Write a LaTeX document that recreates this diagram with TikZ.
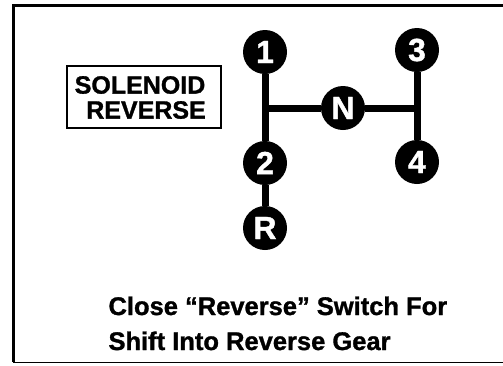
\documentclass[tikz,border=0pt]{standalone}
\usepackage{fontspec}
\setmainfont{Liberation Sans}
\usepackage{tikz}
\definecolor{ShiftInk}{HTML}{000000}
\definecolor{ShiftPaper}{HTML}{FFFFFF}
\newfontfamily\heavysans[FakeBold=1.2]{Liberation Sans Bold}

\begin{document}
\begin{tikzpicture}[x=1pt,y=-1pt,
    gear/.style={circle,fill=ShiftInk,text=ShiftPaper,minimum size=44pt,inner sep=0pt,
      font=\heavysans\fontsize{32}{32}\selectfont},
    rod/.style={ShiftInk,line width=7pt},
    caption/.style={anchor=base west,font=\heavysans\fontsize{25.5}{26}\selectfont}]
      \useasboundingbox (0,0) rectangle (503,365);
      \draw[ShiftInk,line width=3pt] (503,5) -- (13,5) -- (13,362);
      \draw[ShiftInk,line width=1pt] (13,362) -- (503,362);
      % gear positions
      \node[gear] (g1) at (265,52) {1};
      \node[gear] (g2) at (265,163) {2};
      \node[gear] (gR) at (265,228) {R};
      \node[gear] (g3) at (417,50) {3};
      \node[gear] (g4) at (417,162) {4};
      \node[gear] (gN) at (343,108) {N};
      \coordinate (jl) at (265,108);
      \coordinate (jr) at (417,108);
      \draw[rod] (g1) -- (g2) (g2) -- (gR) (g3) -- (g4);
      \draw[rod] (jl) -- (gN) (gN) -- (jr);
      % label box
      \draw[ShiftInk,line width=2.2pt] (67,66) rectangle (221,128);
      \node[font=\heavysans\fontsize{25}{25}\selectfont] (sol) at (140,85) {SOLENOID};
      \node[font=\heavysans\fontsize{25}{25}\selectfont] (rev) at (146,110) {REVERSE};
      \node[caption] (cap1) at (105,315) {Close “Reverse” Switch For};
      \node[caption] (cap2) at (105,350) {Shift Into Reverse Gear};
    \end{tikzpicture}
\end{document}
